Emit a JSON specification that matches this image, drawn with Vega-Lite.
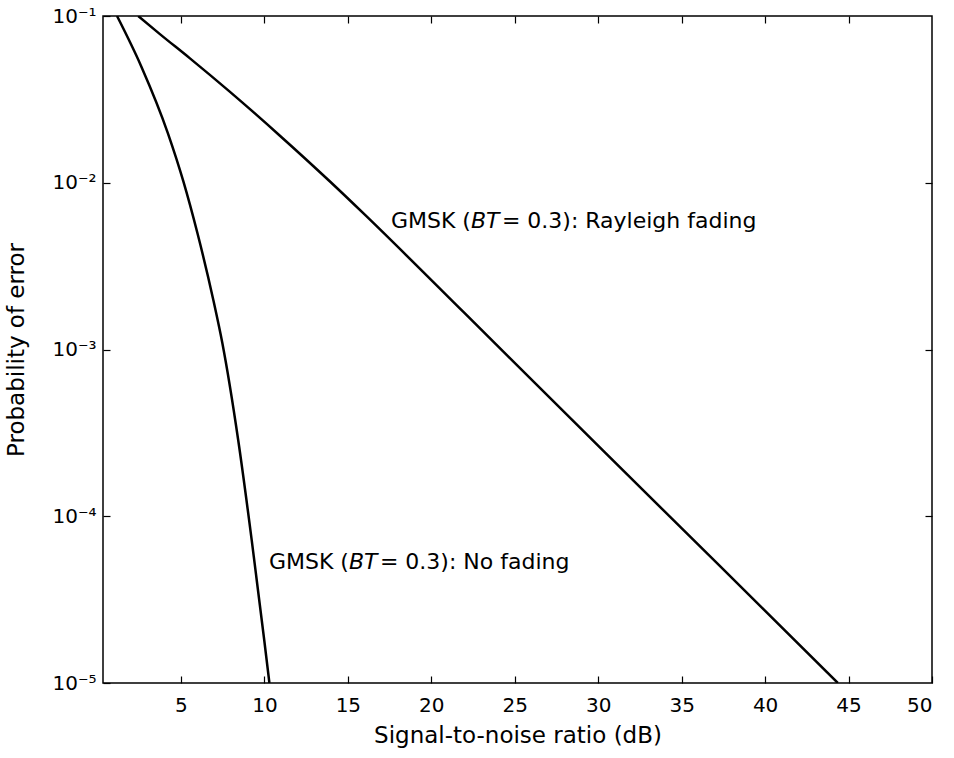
{
  "$schema": "https://vega.github.io/schema/vega-lite/v6.json",
  "width": 829,
  "height": 667,
  "autosize": {"type": "none"},
  "padding": {"left": 103, "top": 16, "right": 22, "bottom": 75},
  "background": "white",
  "config": {
    "view": {"stroke": "black", "strokeWidth": 1.5},
    "font": "DejaVu Sans",
    "axis": {"grid": false, "domain": false, "tickColor": "black", "tickWidth": 1.2, "labelColor": "black", "titleColor": "black", "labelFont": "DejaVu Sans", "titleFont": "DejaVu Sans", "titleFontWeight": "normal"}
  },
  "datasets": {
    "curves": [
      {"series": "No fading", "snr": 1.17, "p": 0.1},
      {"series": "No fading", "snr": 2.63, "p": 0.04966},
      {"series": "No fading", "snr": 4.22, "p": 0.01979},
      {"series": "No fading", "snr": 5.15, "p": 0.01015},
      {"series": "No fading", "snr": 5.99, "p": 0.004975},
      {"series": "No fading", "snr": 6.94, "p": 0.001981},
      {"series": "No fading", "snr": 7.48, "p": 0.001094},
      {"series": "No fading", "snr": 8.43, "p": 0.0002866},
      {"series": "No fading", "snr": 9.24, "p": 0.0000720},
      {"series": "No fading", "snr": 9.99, "p": 0.00001811},
      {"series": "No fading", "snr": 10.30, "p": 0.00001},
      {"series": "Rayleigh fading", "snr": 2.44, "p": 0.1},
      {"series": "Rayleigh fading", "snr": 3.74, "p": 0.0779},
      {"series": "Rayleigh fading", "snr": 5.54, "p": 0.0557},
      {"series": "Rayleigh fading", "snr": 7.94, "p": 0.03506},
      {"series": "Rayleigh fading", "snr": 10.93, "p": 0.01915},
      {"series": "Rayleigh fading", "snr": 13.93, "p": 0.01017},
      {"series": "Rayleigh fading", "snr": 15.97, "p": 0.0065},
      {"series": "Rayleigh fading", "snr": 22.0, "p": 0.00165},
      {"series": "Rayleigh fading", "snr": 30.28, "p": 0.000248},
      {"series": "Rayleigh fading", "snr": 37.3, "p": 0.0000502},
      {"series": "Rayleigh fading", "snr": 44.36, "p": 0.00001}
    ],
    "labels": [
      {"snr": 17.58, "p": 0.0059, "pre": "GMSK (", "it": "BT", "post": "= 0.3): Rayleigh fading"},
      {"snr": 10.27, "p": 0.0000532, "pre": "GMSK (", "it": "BT", "post": "= 0.3): No fading"}
    ]
  },
  "layer": [
    {
      "data": {"name": "curves"},
      "mark": {"type": "line", "color": "black", "strokeWidth": 2.5, "clip": true, "interpolate": "monotone"},
      "encoding": {
        "x": {"field": "snr", "type": "quantitative", "scale": {"domain": [0.33, 50], "nice": false, "zero": false},
          "axis": {"orient": "bottom", "values": [5, 10, 15, 20, 25, 30, 35, 40, 45, 50], "tickSize": -7, "labelFontSize": 20, "labelPadding": 19,
            "title": "Signal-to-noise ratio (dB)", "titleFontSize": 23, "titleY": 59, "titleBaseline": "alphabetic"}},
        "y": {"field": "p", "type": "quantitative", "scale": {"type": "log", "domain": [0.00001, 0.1], "nice": false},
          "axis": {"orient": "left", "values": [0.00001, 0.0001, 0.001, 0.01, 0.1], "tickSize": -7, "labelFontSize": 20, "labelPadding": 14,
            "labelExpr": "'10⁻' + ['', '¹', '²', '³', '⁴', '⁵'][round(-log(datum.value) / LN10)]",
            "title": "Probability of error", "titleFontSize": 23, "titleX": -87, "titleBaseline": "middle", "titleAngle": -90}},
        "detail": {"field": "series"}
      }
    },
    {
      "data": {"name": "curves"},
      "mark": {"type": "line", "opacity": 0},
      "encoding": {
        "x": {"field": "snr", "type": "quantitative", "axis": {"orient": "top", "values": [5, 10, 15, 20, 25, 30, 35, 40, 45], "tickSize": -7, "labels": false, "title": null}},
        "y": {"field": "p", "type": "quantitative", "axis": {"orient": "right", "values": [0.0001, 0.001, 0.01], "tickSize": -7, "labels": false, "title": null}},
        "detail": {"field": "series"}
      }
    },
    {
      "data": {"name": "labels"},
      "mark": {"type": "text", "align": "left", "baseline": "middle", "fontSize": 22, "font": "DejaVu Sans", "color": "black"},
      "encoding": {
        "x": {"field": "snr", "type": "quantitative", "axis": null},
        "y": {"field": "p", "type": "quantitative", "axis": null},
        "text": {"field": "pre"}
      }
    },
    {
      "data": {"name": "labels"},
      "mark": {"type": "text", "align": "left", "baseline": "middle", "fontSize": 22, "font": "DejaVu Sans", "fontStyle": "italic", "color": "black", "dx": 80},
      "encoding": {
        "x": {"field": "snr", "type": "quantitative", "axis": null},
        "y": {"field": "p", "type": "quantitative", "axis": null},
        "text": {"field": "it"}
      }
    },
    {
      "data": {"name": "labels"},
      "mark": {"type": "text", "align": "left", "baseline": "middle", "fontSize": 22, "font": "DejaVu Sans", "color": "black", "dx": 111},
      "encoding": {
        "x": {"field": "snr", "type": "quantitative", "axis": null},
        "y": {"field": "p", "type": "quantitative", "axis": null},
        "text": {"field": "post"}
      }
    }
  ],
  "resolve": {"axis": {"x": "independent", "y": "independent"}}
}
